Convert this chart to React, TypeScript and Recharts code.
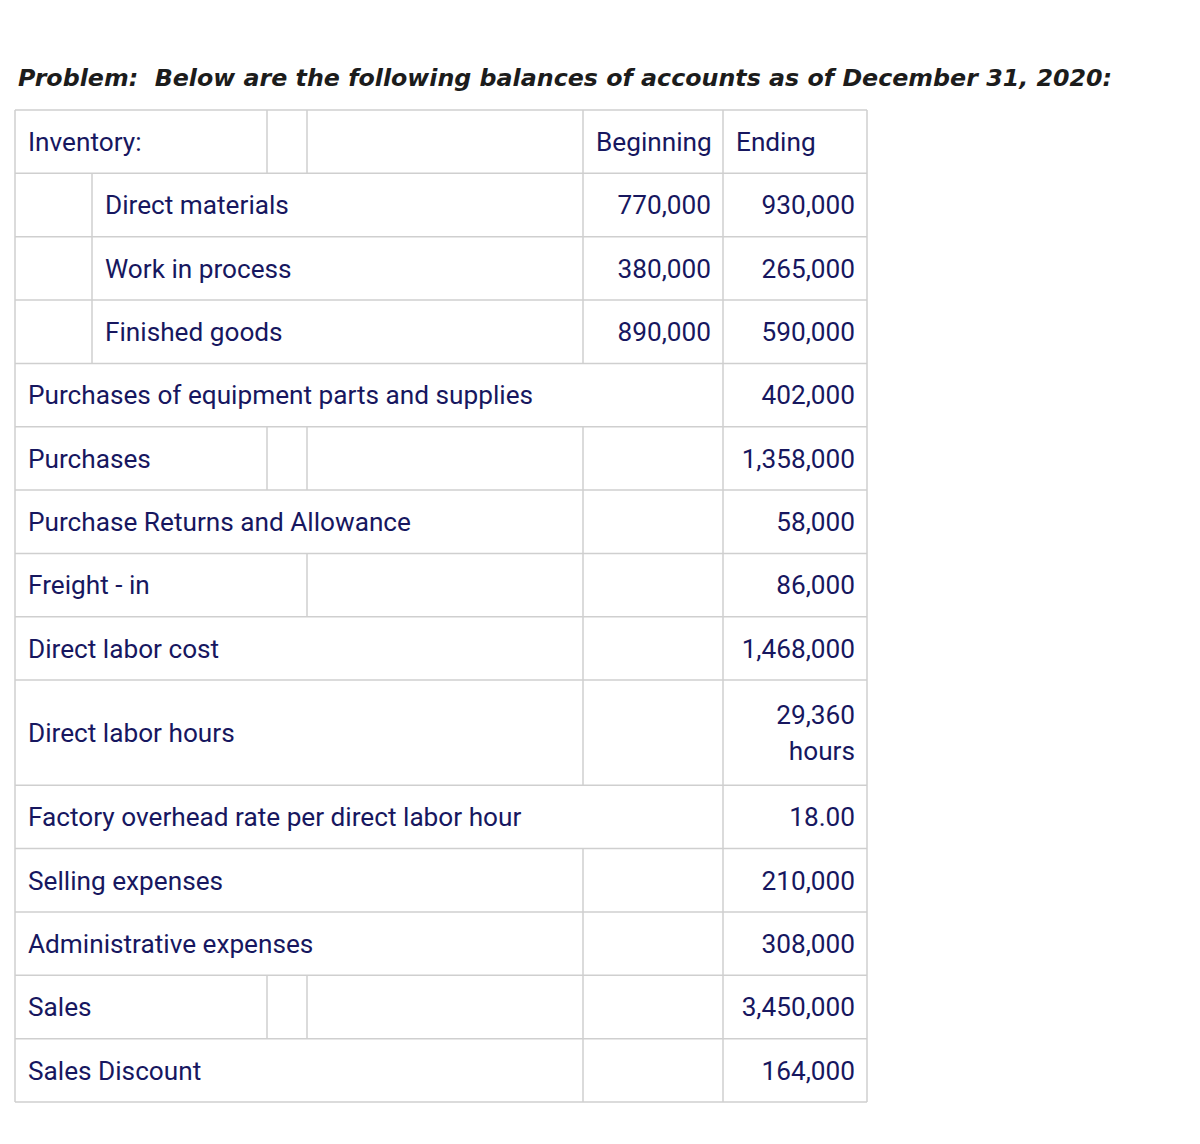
import React from "react";
import { ComposedChart, XAxis, YAxis, ReferenceLine, ReferenceArea } from "recharts";

// ---------- data ----------
const titleText = "Problem:\u00a0 Below are the following balances of accounts as of December 31, 2020:";
const columnHeaders = ["Beginning", "Ending"];
const rowLabels = [
  "Inventory:",
  "Direct materials",
  "Work in process",
  "Finished goods",
  "Purchases of equipment parts and supplies",
  "Purchases",
  "Purchase Returns and Allowance",
  "Freight - in",
  "Direct labor cost",
  "Direct labor hours",
  "Factory overhead rate per direct labor hour",
  "Selling expenses",
  "Administrative expenses",
  "Sales",
  "Sales Discount",
];
const rowIndent = [0, 1, 1, 1, 0, 0, 0, 0, 0, 0, 0, 0, 0, 0, 0];
const beginningValues: (number | null)[] = [null, 770000, 380000, 890000, null, null, null, null, null, null, null, null, null, null, null];
const endingValues: (number | null)[] = [null, 930000, 265000, 590000, 402000, 1358000, 58000, 86000, 1468000, 29360, 18, 210000, 308000, 3450000, 164000];
const valueUnits = ["", "", "", "", "", "", "", "", "", "hours", "", "", "", "", ""];
const valueDecimals = [0, 0, 0, 0, 0, 0, 0, 0, 0, 0, 2, 0, 0, 0, 0];

// ---------- layout (positions / styles) ----------
const TABLE_W = 852;
const COL = { indent: 77, a: 252, b: 292, beg: 568, end: 708 };
const rowDividers: number[][] = [
  [COL.a, COL.b, COL.beg, COL.end],
  [COL.indent, COL.beg, COL.end],
  [COL.indent, COL.beg, COL.end],
  [COL.indent, COL.beg, COL.end],
  [COL.end],
  [COL.a, COL.b, COL.beg, COL.end],
  [COL.beg, COL.end],
  [COL.b, COL.beg, COL.end],
  [COL.beg, COL.end],
  [COL.beg, COL.end],
  [COL.end],
  [COL.beg, COL.end],
  [COL.beg, COL.end],
  [COL.a, COL.b, COL.beg, COL.end],
  [COL.beg, COL.end],
];
const EXTRA_LINE_UNITS = 0.66;
const TEXT_COLOR = "#17175f";
const LINE_COLOR = "#cfcfcf";
const FONT = "Roboto, 'Noto Sans', sans-serif";
const FONT_SIZE = 26.2;
const LINE_H = 36;
const BASE_OFF = 9.3;
const PAD_L = 13;
const PAD_R = 12;

const fmt = (v: number, d: number) =>
  v.toLocaleString("en-US", { minimumFractionDigits: d, maximumFractionDigits: d });

const rowUnits = rowLabels.map((_, i) => 1 + (valueUnits[i] ? EXTRA_LINE_UNITS : 0));
const rowTops: number[] = [];
rowUnits.reduce((acc, u) => {
  rowTops.push(acc);
  return acc + u;
}, 0);
const TOTAL = rowUnits.reduce((a, b) => a + b, 0);

const cellText = (lines: string[], align: "start" | "end") => (props: any) => {
  const { x, y, width, height } = props.viewBox || {};
  const tx = align === "start" ? x + PAD_L : x + width - PAD_R;
  const cy = y + height / 2;
  const n = lines.length;
  return (
    <text x={tx} textAnchor={align} fontFamily={FONT} fontSize={FONT_SIZE} fill={TEXT_COLOR}>
      {lines.map((l, i) => (
        <tspan key={i} x={tx} y={cy + (i - (n - 1) / 2) * LINE_H + BASE_OFF}>
          {l}
        </tspan>
      ))}
    </text>
  );
};

export default function App() {
  const hLines = [...rowTops, TOTAL];
  const cells: any[] = [];
  rowLabels.forEach((label, i) => {
    const y1 = rowTops[i];
    const y2 = y1 + rowUnits[i];
    const x1 = rowIndent[i] ? COL.indent : 0;
    cells.push({ key: `l${i}`, x1, x2: COL.beg, y1, y2, lines: [label], align: "start" });
    if (i === 0) {
      cells.push({ key: `h0`, x1: COL.beg, x2: COL.end, y1, y2, lines: [columnHeaders[0]], align: "start" });
      cells.push({ key: `h1`, x1: COL.end, x2: TABLE_W, y1, y2, lines: [columnHeaders[1]], align: "start" });
    }
    const b = beginningValues[i];
    if (b != null) {
      cells.push({ key: `b${i}`, x1: COL.beg, x2: COL.end, y1, y2, lines: [fmt(b, valueDecimals[i])], align: "end" });
    }
    const e = endingValues[i];
    if (e != null) {
      const lines = [fmt(e, valueDecimals[i])];
      if (valueUnits[i]) lines.push(valueUnits[i]);
      cells.push({ key: `e${i}`, x1: COL.end, x2: TABLE_W, y1, y2, lines, align: "end" });
    }
  });

  return (
    <div style={{ position: "absolute", left: 0, top: 0, width: 1200, height: 1144, background: "#ffffff" }}>
      <svg width={1200} height={100} style={{ position: "absolute", left: 0, top: 0 }}>
        <text
          x={18}
          y={86}
          fontFamily="'DejaVu Sans', sans-serif"
          fontWeight="bold"
          fontStyle="italic"
          fontSize={23}
          fill="#1c1c1c"
          textLength={1094}
          lengthAdjust="spacingAndGlyphs"
        >
          {titleText}
        </text>
      </svg>
      <div style={{ position: "absolute", left: 0, top: 0 }}>
        <ComposedChart
          width={1200}
          height={1144}
          data={rowLabels.map((name) => ({ name }))}
          margin={{ top: 110, left: 15, right: 333, bottom: 42 }}
        >
          <XAxis type="number" dataKey="x" domain={[0, TABLE_W]} allowDataOverflow hide />
          <YAxis type="number" dataKey="y" domain={[0, TOTAL]} allowDataOverflow reversed hide />
          {cells.map((c) => (
            <ReferenceArea
              key={c.key}
              x1={c.x1}
              x2={c.x2}
              y1={c.y1}
              y2={c.y2}
              fill="#ffffff"
              fillOpacity={0}
              stroke="none"
              ifOverflow="visible"
              label={cellText(c.lines, c.align)}
            />
          ))}
          {hLines.map((y, i) => (
            <ReferenceLine
              key={`h${i}`}
              segment={[{ x: 0, y }, { x: TABLE_W, y }]}
              stroke={LINE_COLOR}
              strokeWidth={1.5}
              ifOverflow="visible"
            />
          ))}
          <ReferenceLine segment={[{ x: 0, y: 0 }, { x: 0, y: TOTAL }]} stroke={LINE_COLOR} strokeWidth={1.5} ifOverflow="visible" />
          <ReferenceLine segment={[{ x: TABLE_W, y: 0 }, { x: TABLE_W, y: TOTAL }]} stroke={LINE_COLOR} strokeWidth={1.5} ifOverflow="visible" />
          {rowDividers.map((divs, i) =>
            divs.map((x, j) => (
              <ReferenceLine
                key={`v${i}-${j}`}
                segment={[{ x, y: rowTops[i] }, { x, y: rowTops[i] + rowUnits[i] }]}
                stroke={LINE_COLOR}
                strokeWidth={1.5}
                ifOverflow="visible"
              />
            ))
          )}
        </ComposedChart>
      </div>
    </div>
  );
}
